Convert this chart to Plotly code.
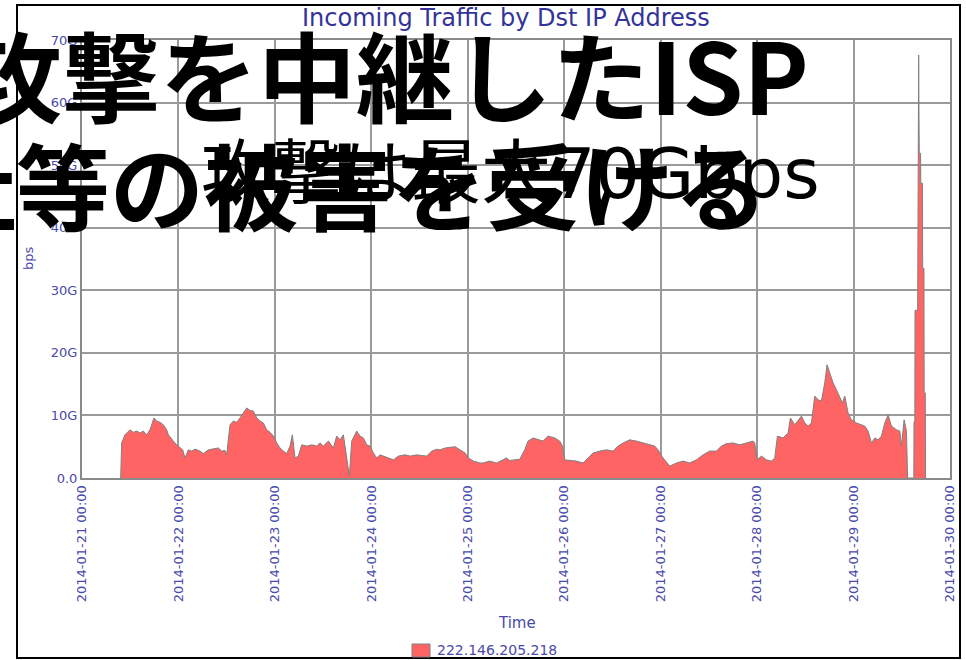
import pandas as pd
import plotly.graph_objects as go

# ---- data (hours after 2014-01-21 00:00, traffic in Gbps) ----
hours = [
    9.62, 9.87, 10.70, 11.95, 12.78, 13.61, 14.44, 15.26, 16.09, 16.92, 17.75, 17.92,
    18.58, 19.41, 20.24, 21.07, 21.49, 22.32, 22.73, 23.56, 24.39, 25.05, 25.64, 26.46,
    27.29, 28.12, 29.37, 30.20, 31.44, 32.69, 33.93, 34.76, 35.59, 36.00, 36.83, 37.66,
    38.49, 39.32, 40.15, 40.98, 41.81, 42.64, 43.47, 44.30, 45.13, 45.96, 46.79, 47.62,
    48.45, 49.28, 50.11, 50.94, 51.77, 52.35, 53.01, 53.84, 54.67, 55.92, 57.16, 58.40,
    59.23, 60.06, 61.31, 62.55, 63.38, 64.21, 65.04, 65.46, 66.04, 66.53, 67.12, 68.36,
    69.19, 70.02, 70.85, 71.68, 72.51, 73.34, 74.17, 75.00, 76.24, 77.49, 78.73, 80.39,
    81.63, 83.29, 84.54, 85.78, 87.03, 88.27, 89.10, 90.34, 92.83, 94.08, 95.32, 96.15,
    97.40, 99.06, 99.80, 101.46, 103.12, 104.78, 105.61, 106.44, 108.93, 110.17, 111.00,
    112.25, 113.49, 114.74, 115.98, 117.64, 118.88, 119.55, 120.13, 121.37, 123.03,
    124.69, 125.93, 127.18, 128.84, 130.50, 132.15, 133.40, 134.64, 136.30, 137.96,
    139.62, 141.28, 142.52, 143.35, 144.60, 146.26, 147.92, 149.57, 151.23, 152.89,
    154.55, 156.21, 157.87, 159.11, 160.36, 162.02, 163.68, 165.34, 167.00, 167.41,
    167.99, 169.07, 170.31, 171.56, 172.39, 173.05, 174.46, 175.71, 176.29, 177.37,
    178.20, 179.03, 179.86, 180.69, 181.52, 182.34, 183.17, 184.00, 184.83, 185.41,
    186.08, 186.91, 187.74, 188.57, 189.23, 189.81, 190.64, 191.47, 192.72, 193.96,
    194.79, 195.62, 196.45, 197.28, 198.11, 198.94, 199.77, 200.60, 201.43, 202.68,
    203.51, 203.92, 204.58, 205.17, 205.45, 207.00, 207.05, 207.25, 207.30, 207.95,
    208.00, 208.15, 208.20, 208.25, 208.35, 208.68, 208.73, 209.15, 209.20, 209.52,
    209.57, 209.85, 209.90,
]
gbps = [
    0.0, 5.6, 6.9, 7.7, 7.3, 7.5, 7.2, 7.5, 6.9, 7.7, 9.3, 9.6,
    9.1, 8.9, 8.5, 7.7, 6.9, 6.1, 5.9, 5.3, 4.8, 4.5, 3.2, 4.5,
    4.3, 4.6, 4.3, 3.9, 4.5, 4.6, 4.8, 4.3, 4.4, 3.7, 8.5, 9.1,
    8.9, 9.6, 10.4, 11.2, 10.8, 10.7, 9.6, 9.1, 8.8, 7.7, 7.3, 6.7,
    5.6, 4.8, 4.3, 3.9, 5.1, 6.9, 3.2, 3.5, 5.3, 5.1, 5.3, 5.1,
    5.6, 5.1, 5.9, 4.8, 6.7, 6.1, 6.9, 4.8, 2.4, 0.3, 5.9, 7.5,
    6.7, 6.4, 5.3, 5.1, 4.0, 3.2, 3.7, 3.5, 3.2, 2.9, 3.5, 3.7,
    3.5, 3.7, 3.6, 3.5, 4.3, 4.6, 4.5, 4.8, 5.0, 4.5, 4.0, 3.2,
    2.7, 2.4, 2.4, 2.7, 2.4, 2.9, 3.2, 2.8, 3.0, 4.5, 5.9,
    6.4, 6.1, 5.9, 6.7, 6.4, 5.9, 5.1, 2.9, 2.8, 2.7,
    2.4, 3.2, 4.0, 4.3, 4.5, 4.3, 5.1, 5.6, 6.1, 5.9,
    5.6, 5.3, 5.1, 4.5, 3.2, 1.9, 2.4, 2.7, 2.4, 2.9,
    3.7, 4.3, 4.3, 5.1, 5.5, 5.6, 5.3, 5.6, 5.9, 5.6,
    2.9, 3.5, 2.9, 2.7, 3.2, 6.7, 6.4, 7.2, 9.6, 8.5,
    9.3, 9.9, 8.8, 8.3, 8.8, 13.1, 12.5, 12.3, 15.2, 18.1,
    16.8, 15.2, 14.1, 12.8, 12.0, 13.1, 10.4, 9.3, 8.8, 8.5,
    8.3, 7.5, 5.6, 6.4, 6.1, 6.7, 8.8, 10.1, 8.3, 7.7,
    7.5, 5.1, 9.3, 7.5, 0.0, 0.0, 9.0, 9.0, 26.8, 26.8,
    51.9, 51.9, 67.6, 60.7, 51.9, 51.9, 47.1, 47.1, 33.5, 33.5,
    13.6, 13.6, 0.0,
]
start = "2014-01-21"
end = "2014-01-30"
y_ticks = [0, 10, 20, 30, 40, 50, 60, 70]
y_ticktext = ["0.0", "10G", "20G", "30G", "40G", "50G", "60G", "70G"]
series_name = "222.146.205.218"
chart_title = "Incoming Traffic by Dst IP Address"
overlay_line1 = "攻撃を中継したISP"
overlay_line2 = "社等の被害を受ける"
overlay_sub = "攻撃は最大70Gbps"

FILL = "#ff6464"
OUTLINE = "#808080"
LABEL = "#4a4aaa"

times = pd.Timestamp(start) + pd.to_timedelta(hours, unit="h")

W, H = 966, 660
ML, MR, MT, MB = 82, 16, 40, 182
PW, PH = W - ML - MR, H - MT - MB


def px(x):
    return (x - ML) / PW


def py(y):
    return (H - MB - y) / PH


fig = go.Figure()
fig.add_trace(go.Scatter(
    x=times, y=gbps, name=series_name, mode="lines", showlegend=False,
    line=dict(color=OUTLINE, width=1), fill="tozeroy", fillcolor=FILL,
))

tick_font = dict(family="DejaVu Sans", size=13, color=LABEL)
fig.update_layout(
    width=W, height=H,
    margin=dict(l=ML, r=MR, t=MT, b=MB, autoexpand=False),
    paper_bgcolor="white", plot_bgcolor="white",
    showlegend=False,
    xaxis=dict(type="date", range=[start, end], dtick=86400000, tick0=start,
               tickformat="%Y-%m-%d %H:%M", tickangle=-90, tickfont=tick_font,
               showgrid=True, gridcolor="#9a9a9a", gridwidth=1.5, automargin=False,
               showline=True, linecolor="#8a8a8a", linewidth=2, mirror=True,
               ticks="", zeroline=False),
    yaxis=dict(range=[0, 70], tickvals=y_ticks, ticktext=y_ticktext, tickfont=tick_font,
               showgrid=True, gridcolor="#9a9a9a", gridwidth=1.5, automargin=False,
               showline=True, linecolor="#8a8a8a", linewidth=2, mirror=True,
               ticks="", zeroline=False),
)

# outer black frame
fig.add_shape(type="rect", xref="paper", yref="paper",
              x0=px(17), x1=px(960), y0=py(658), y1=py(5),
              line=dict(color="black", width=2), layer="above")
# legend swatch
fig.add_shape(type="rect", xref="paper", yref="paper",
              x0=px(412), x1=px(430), y0=py(657), y1=py(644),
              fillcolor=FILL, line=dict(color=OUTLINE, width=1), layer="above")

ann = []
ann.append(dict(text=series_name, x=px(435), y=py(650), xref="paper", yref="paper",
                showarrow=False, xanchor="left", yanchor="middle",
                font=dict(family="DejaVu Sans", size=14, color=LABEL)))
ann.append(dict(text=chart_title, x=px(506), y=py(18), xref="paper", yref="paper",
                showarrow=False, xanchor="center", yanchor="middle",
                font=dict(family="DejaVu Sans", size=24, color="#333399")))
ann.append(dict(text="bps", x=px(28), y=py(258), xref="paper", yref="paper",
                showarrow=False, textangle=-90, xanchor="center", yanchor="middle",
                font=dict(family="DejaVu Sans", size=13, color=LABEL)))
ann.append(dict(text="Time", x=px(517), y=py(623), xref="paper", yref="paper",
                showarrow=False, xanchor="center", yanchor="middle",
                font=dict(family="DejaVu Sans", size=15, color=LABEL)))
ann.append(dict(text="<b>" + overlay_line1 + "</b>", x=px(-38), y=py(72), xref="paper", yref="paper",
                showarrow=False, xanchor="left", yanchor="middle",
                font=dict(family="Noto Sans CJK JP", size=98, color="black")))
ann.append(dict(text="<b>" + overlay_line2 + "</b>", x=px(-80), y=py(183), xref="paper", yref="paper",
                showarrow=False, xanchor="left", yanchor="middle",
                font=dict(family="Noto Sans CJK JP", size=94, color="black")))
ann.append(dict(text=overlay_sub, x=px(199), y=py(174), xref="paper", yref="paper",
                showarrow=False, xanchor="left", yanchor="middle",
                font=dict(family="DejaVu Sans, Noto Sans CJK JP", size=70, color="black")))
fig.update_layout(annotations=ann)

fig.write_html("out.html", config={"displayModeBar": False},
               post_script="document.body.style.margin='0px';")
